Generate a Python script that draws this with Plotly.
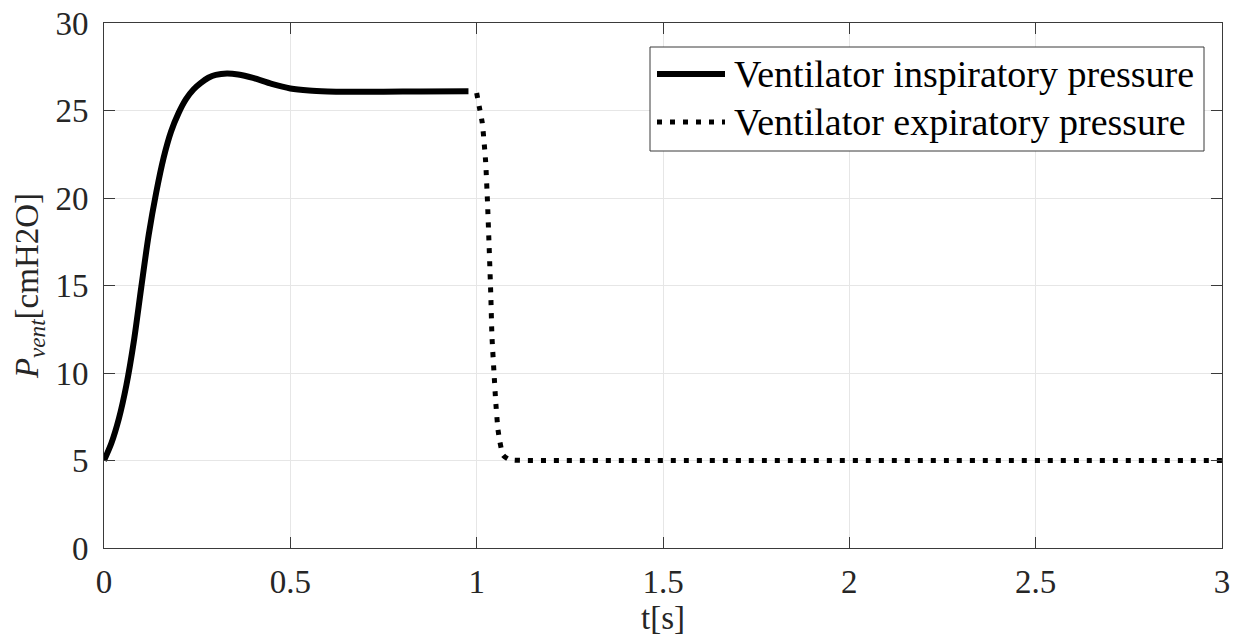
import plotly.graph_objects as go

# Inspiratory pressure (solid)
insp_t = [0.0, 0.02, 0.04, 0.06, 0.08, 0.10, 0.12, 0.14, 0.16, 0.18, 0.20, 0.22,
          0.24, 0.26, 0.28, 0.30, 0.33, 0.36, 0.40, 0.45, 0.50, 0.55, 0.60, 0.65,
          0.75, 0.85, 0.978]
insp_p = [5.0, 6.0, 7.4, 9.3, 11.8, 14.9, 17.9, 20.3, 22.3, 23.8, 24.85, 25.65,
          26.2, 26.58, 26.87, 27.04, 27.12, 27.06, 26.86, 26.52, 26.26, 26.14, 26.09, 26.07,
          26.07, 26.09, 26.1]

# Expiratory pressure (dotted)
exp_t = [1.0, 1.008, 1.015, 1.024, 1.029, 1.033, 1.038, 1.041, 1.047, 1.051, 1.057,
         1.062, 1.071, 1.085, 1.1, 1.2, 3.0]
exp_p = [26.0, 25.1, 24.3, 22.1, 19.8, 17.5, 14.4, 12.1, 9.85, 8.4, 6.8,
         6.1, 5.3, 5.08, 5.02, 5.0, 5.0]

legend_labels = ["Ventilator inspiratory pressure", "Ventilator expiratory pressure"]

x_ticks = [0, 0.5, 1, 1.5, 2, 2.5, 3]
x_ticktext = ["0", "0.5", "1", "1.5", "2", "2.5", "3"]
y_ticks = [0, 5, 10, 15, 20, 25, 30]

FONT = "Liberation Serif"
AXC = "#262626"

fig = go.Figure()
fig.add_trace(go.Scatter(x=insp_t, y=insp_p, mode="lines", name=legend_labels[0],
                         line=dict(color="black", width=6, shape="spline", smoothing=0.8),
                         showlegend=False))
fig.add_trace(go.Scatter(x=exp_t, y=exp_p, mode="lines", name=legend_labels[1],
                         line=dict(color="black", width=5, dash="5px,8px", shape="spline", smoothing=0.5),
                         showlegend=False))

axis_common = dict(
    showline=True, linecolor="#3a3a3a", linewidth=1, mirror="ticks",
    ticks="inside", ticklen=11, tickwidth=1, tickcolor="#3a3a3a",
    showgrid=True, gridcolor="#e6e6e6", gridwidth=1, zeroline=False,
    tickfont=dict(family=FONT, size=33, color=AXC),
)

fig.update_xaxes(range=[0, 3], tickvals=x_ticks, ticktext=x_ticktext,
                 title=dict(text="t[s]", font=dict(family=FONT, size=33, color=AXC), standoff=2),
                 ticklabelstandoff=4, **axis_common)
fig.update_yaxes(range=[0, 30], tickvals=y_ticks,
                 title=dict(text="<i>P</i><sub><i>vent</i></sub>[cmH2O]",
                            font=dict(family=FONT, size=33, color=AXC), standoff=6),
                 ticklabelstandoff=8, **axis_common)

# Legend box drawn in the axes frame
def px_x(p):
    return (p - 104) / 1118.0

def px_y(p):
    return (548 - p) / 525.0

shapes = [
    dict(type="rect", xref="paper", yref="paper", x0=px_x(650), x1=px_x(1204),
         y0=px_y(151), y1=px_y(47), line=dict(color="#3a3a3a", width=1), fillcolor="white", layer="above"),
    dict(type="line", xref="paper", yref="paper", x0=px_x(657), x1=px_x(725),
         y0=px_y(74), y1=px_y(74), line=dict(color="black", width=6)),
    dict(type="line", xref="paper", yref="paper", x0=px_x(657), x1=px_x(725),
         y0=px_y(122), y1=px_y(122), line=dict(color="black", width=5, dash="5px,8px")),
]
annotations = [
    dict(xref="paper", yref="paper", x=px_x(732), y=px_y(74), text=legend_labels[0],
         xanchor="left", yanchor="middle", showarrow=False,
         font=dict(family=FONT, size=38, color="black")),
    dict(xref="paper", yref="paper", x=px_x(732), y=px_y(122), text=legend_labels[1],
         xanchor="left", yanchor="middle", showarrow=False,
         font=dict(family=FONT, size=38, color="black")),
]

fig.update_layout(
    width=1245, height=638,
    margin=dict(l=104, r=23, t=23, b=90, autoexpand=False),
    paper_bgcolor="white", plot_bgcolor="white",
    shapes=shapes, annotations=annotations,
    font=dict(family=FONT, color=AXC),
)

fig.write_html("out.html")
